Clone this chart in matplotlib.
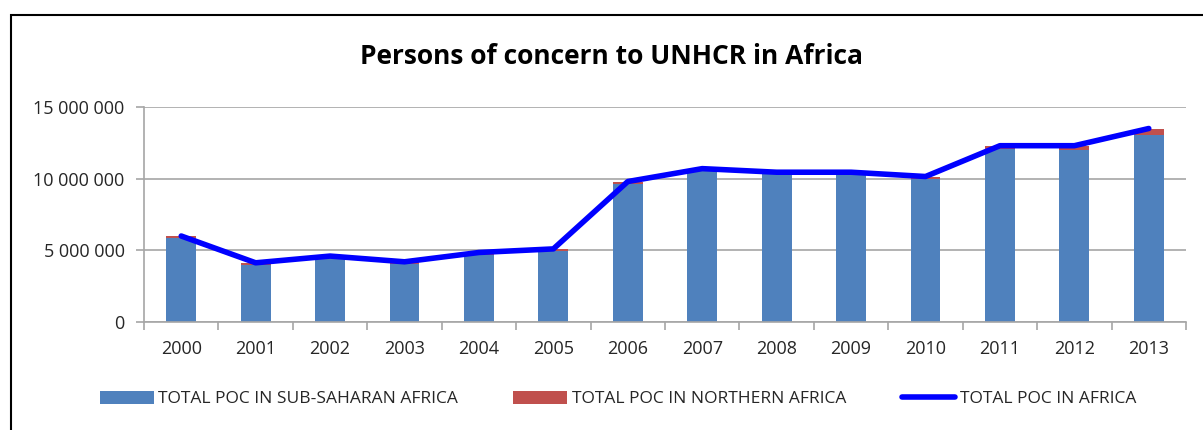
import matplotlib
matplotlib.use("Agg")
import matplotlib.pyplot as plt
from matplotlib.patches import Rectangle
from matplotlib.ticker import FuncFormatter

years = ["2000", "2001", "2002", "2003", "2004", "2005", "2006",
         "2007", "2008", "2009", "2010", "2011", "2012", "2013"]
sub_saharan = [5850000, 3950000, 4450000, 4050000, 4650000, 4950000, 9600000,
               10600000, 10300000, 10300000, 9950000, 12050000, 12000000, 13050000]
northern = [150000, 180000, 150000, 150000, 200000, 150000, 200000,
            100000, 150000, 150000, 200000, 250000, 300000, 450000]
total = [s + n for s, n in zip(sub_saharan, northern)]

plt.rcParams["font.family"] = ["Open Sans", "DejaVu Sans"]

fig = plt.figure(figsize=(12.03, 4.30), dpi=100)
ax = fig.add_axes([144 / 1203, 1 - 322 / 430, (1186 - 144) / 1203, (322 - 107) / 430])

x = list(range(len(years)))
b1 = ax.bar(x, sub_saharan, width=0.4, color="#4f81bd", zorder=2,
            label="TOTAL POC IN SUB-SAHARAN AFRICA")
b2 = ax.bar(x, northern, width=0.4, bottom=sub_saharan, color="#c0504d", zorder=2,
            label="TOTAL POC IN NORTHERN AFRICA")
ln, = ax.plot(x, total, color="#0000ff", lw=4, zorder=3, solid_capstyle="round",
              label="TOTAL POC IN AFRICA")

ax.set_xlim(-0.5, len(years) - 0.5)
ax.set_ylim(0, 15000000)
ax.set_yticks([0, 5000000, 10000000, 15000000])
ax.yaxis.set_major_formatter(FuncFormatter(lambda v, p: "{:,.0f}".format(v).replace(",", " ")))
ax.grid(axis="y", color="#a6a6a6", lw=1.2, zorder=0)
ax.set_xticks(x)
ax.set_xticklabels(years)
ax.set_xticks([i - 0.5 for i in range(len(years) + 1)], minor=True)
ax.tick_params(axis="x", which="major", length=0, pad=13, labelsize=13, colors="#262626")
ax.tick_params(axis="x", which="minor", length=6, color="#a6a6a6", width=1.2)
ax.tick_params(axis="y", length=6, color="#a6a6a6", width=1.2, pad=8,
               labelsize=13, labelcolor="#262626")
for s in ["top", "right"]:
    ax.spines[s].set_visible(False)
ax.spines["left"].set_color("#a6a6a6")
ax.spines["bottom"].set_color("#a6a6a6")
ax.spines["left"].set_linewidth(1.2)
ax.spines["bottom"].set_linewidth(1.2)

fig.text(611 / 1203, 1 - 56 / 430, "Persons of concern to UNHCR in Africa",
         ha="center", va="center", fontsize=19, fontweight="bold", color="black")

fig.legend([b1, b2, ln], [b1.get_label(), b2.get_label(), ln.get_label()],
           loc="center", bbox_to_anchor=(618 / 1203, 1 - 399 / 430), ncol=3,
           frameon=False, fontsize=12.5, handlelength=3.1, handleheight=0.8,
           columnspacing=3.2, handletextpad=0.25, labelcolor="#262626")

fig.patches.append(Rectangle((11 / 1203, -0.1), 1.2, 1 - 15 / 430 + 0.1,
                             transform=fig.transFigure, fill=False,
                             edgecolor="black", lw=1.5))

fig.savefig("out.png", dpi=100)
